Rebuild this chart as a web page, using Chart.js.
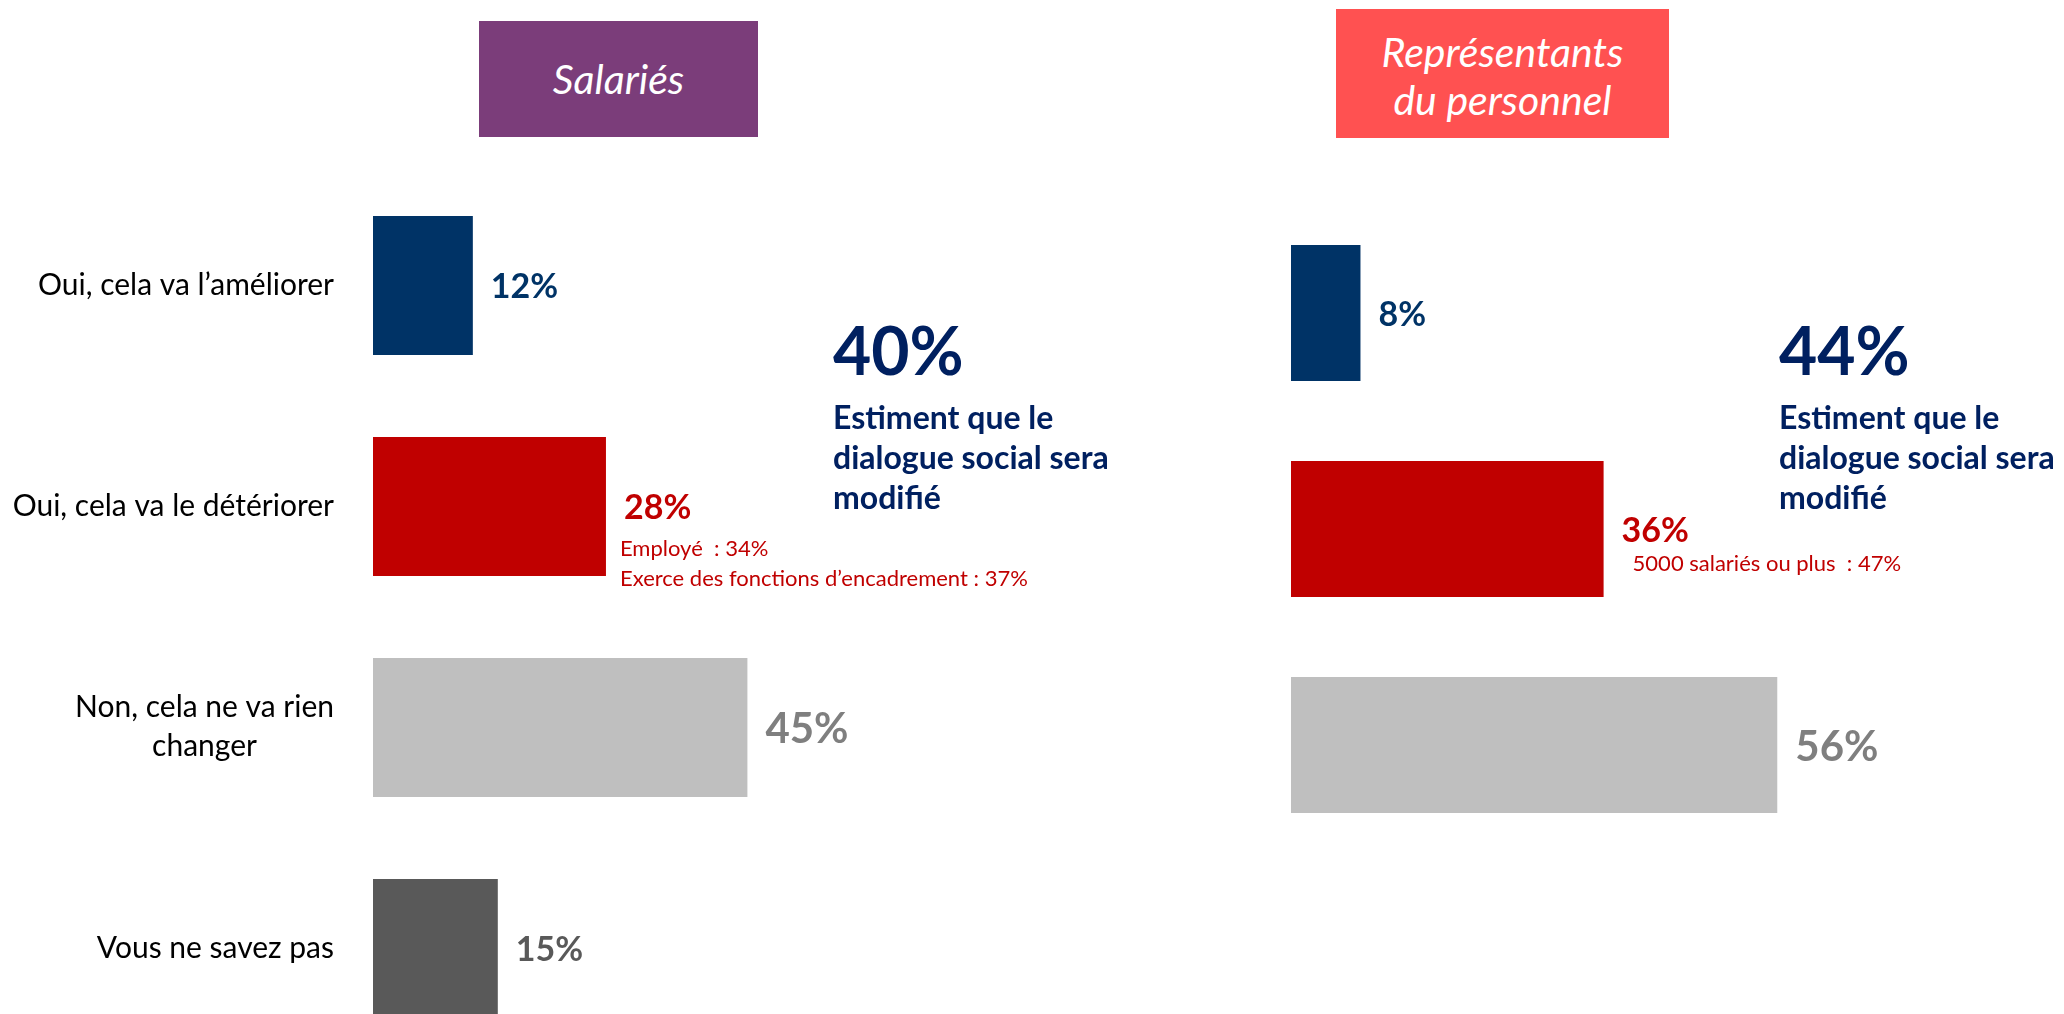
<!DOCTYPE html>
<html lang="fr">
<head>
<meta charset="utf-8">
<title>Dialogue social</title>
<script src="https://cdn.jsdelivr.net/npm/chart.js@4.4.1/dist/chart.umd.min.js"></script>
<style>
    html, body { margin: 0; padding: 0; background: #fff; overflow: hidden; }
    body { width: 2064px; height: 1014px; position: relative; font-family: Lato, "Open Sans", sans-serif; }
    canvas { position: absolute; top: 0; }
    #chart-salaries { left: 0; }
    #chart-representants { left: 1200px; }

    .panel-title {
        position: absolute; color: #fff; font-style: italic; font-size: 41px; line-height: 48px;
        display: flex; align-items: center; justify-content: center; text-align: center;
        box-sizing: border-box;
    }
    #title-salaries { left: 479px; top: 21px; width: 279px; height: 116px; background: #7b3d7a; }
    #title-representants { left: 1336px; top: 9px; width: 333px; height: 129px; padding-top: 5px; background: #ff5151; }

    .summary { position: absolute; color: #002060; font-weight: bold; white-space: nowrap; }
    .summary .big { font-size: 66px; line-height: 66px; }
    .summary .caption { font-size: 32px; line-height: 40px; margin-top: 14px; }
    #summary-salaries { left: 833px; top: 317px; }
    #summary-representants { left: 1779px; top: 317px; }
</style>
</head>
<body>

<div class="panel-title" id="title-salaries"></div>
<div class="panel-title" id="title-representants"></div>

<canvas id="chart-salaries" width="1150" height="1100"></canvas>
<canvas id="chart-representants" width="864" height="1014"></canvas>

<div class="summary" id="summary-salaries"></div>
<div class="summary" id="summary-representants"></div>

<script>
// Question categories (the last one only exists for employees)
const categories = [
    'Oui, cela va l’améliorer',
    'Oui, cela va le détériorer',
    ['Non, cela ne va rien', 'changer'],
    'Vous ne savez pas'
];

const salariesValues = [12, 28, 45, 15];
const representantsValues = [8, 36, 56];

// extra breakdowns printed under the "détériorer" bar
const salariesNotes = [[], ['Employé  : 34%', 'Exerce des fonctions d’encadrement : 37%'], [], []];
const representantsNotes = [[], ['5000 salariés ou plus  : 47%'], []];

const salariesTitle = ['Salariés'];
const representantsTitle = ['Représentants', 'du personnel'];
const summaryCaption = ['Estiment que le', 'dialogue social sera', 'modifié'];

const BAR_COLORS = ['#003366', '#c00000', '#bfbfbf', '#595959'];
const LABEL_COLORS = ['#003366', '#c00000', '#7f7f7f', '#595959'];
const LABEL_SIZES = [34, 34, 42, 34];

// Draws "xx%" right after each bar, plus the optional breakdown lines
const valueLabels = {
    id: 'valueLabels',
    afterDatasetsDraw(chart, args, opts) {
        const ctx = chart.ctx;
        const values = chart.data.datasets[0].data;
        ctx.save();
        ctx.textAlign = 'left';
        ctx.textBaseline = 'alphabetic';
        chart.getDatasetMeta(0).data.forEach((bar, i) => {
            const size = LABEL_SIZES[i];
            ctx.fillStyle = LABEL_COLORS[i];
            ctx.font = `bold ${size}px Lato`;
            ctx.fillText(values[i] + '%', bar.x + 18, bar.y + size * 0.37);

            ctx.fillStyle = '#c00000';
            ctx.font = '22px Lato';
            (opts.notes[i] || []).forEach((line, k) => {
                ctx.fillText(line, bar.x + opts.noteDx, bar.y + opts.noteDy + k * 30);
            });
        });
        ctx.restore();
    }
};

// Category names to the left of the bars; multi-line names are centred in their block
const categoryLabels = {
    id: 'categoryLabels',
    afterDraw(chart) {
        const ctx = chart.ctx;
        const yScale = chart.scales.y;
        const right = chart.chartArea.left - 39;
        ctx.save();
        ctx.font = '30px Lato';
        ctx.fillStyle = '#000';
        ctx.textAlign = 'center';
        ctx.textBaseline = 'alphabetic';
        chart.data.labels.forEach((label, i) => {
            const lines = Array.isArray(label) ? label : [label];
            const blockW = Math.max(...lines.map(l => ctx.measureText(l).width));
            const cx = right - blockW / 2;
            const y = yScale.getPixelForValue(i);
            lines.forEach((line, k) => {
                ctx.fillText(line, cx, y + 9 + (k - (lines.length - 1) / 2) * 38.5);
            });
        });
        ctx.restore();
    }
};

function makeChart(canvasId, labels, values, maxValue, padding, notes, noteDx, noteDy, withLabels) {
    const plugins = [valueLabels];
    if (withLabels) plugins.push(categoryLabels);

    return new Chart(document.getElementById(canvasId), {
        type: 'bar',
        data: {
            labels: labels,
            datasets: [{
                data: values,
                backgroundColor: BAR_COLORS.slice(0, values.length),
                borderWidth: 0,
                barPercentage: 0.63,
                categoryPercentage: 1
            }]
        },
        options: {
            indexAxis: 'y',
            responsive: false,
            animation: false,
            events: [],
            layout: { padding: padding },
            scales: {
                x: { display: false, min: 0, max: maxValue },
                y: { display: false }
            },
            plugins: {
                legend: { display: false },
                tooltip: { enabled: false },
                valueLabels: { notes: notes, noteDx: noteDx, noteDy: noteDy }
            }
        },
        plugins: plugins
    });
}

function fillTitle(id, lines) {
    document.getElementById(id).innerHTML = lines.join('<br>');
}

function fillSummary(id, values) {
    const total = values[0] + values[1];
    document.getElementById(id).innerHTML =
        `<div class="big">${total}%</div><div class="caption">${summaryCaption.join('<br>')}</div>`;
}

fillTitle('title-salaries', salariesTitle);
fillTitle('title-representants', representantsTitle);
fillSummary('summary-salaries', salariesValues);
fillSummary('summary-representants', representantsValues);

document.fonts.load('30px Lato').then(() => document.fonts.load('bold 34px Lato')).then(() => {
    makeChart('chart-salaries', categories, salariesValues, 50,
        { left: 373, right: 361, top: 175, bottom: 41 },
        salariesNotes, 14, 49, true);
    makeChart('chart-representants', categories.slice(0, 3), representantsValues, 60,
        { left: 91, right: 252, top: 205, bottom: 161 },
        representantsNotes, 29, 42, false);
});
</script>
</body>
</html>
